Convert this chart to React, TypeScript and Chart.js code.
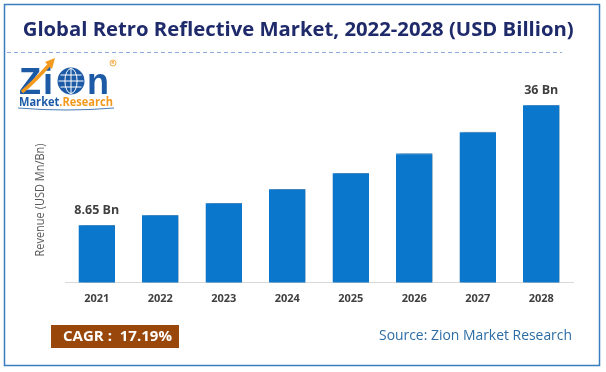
import React, { useEffect, useRef } from 'react';
import { Chart, registerables } from 'chart.js';

Chart.register(...registerables);

const YEARS = ['2021', '2022', '2023', '2024', '2025', '2026', '2027', '2028'];
const REVENUE = [8.65, 10.95, 13.7, 16.9, 20.55, 25.0, 29.95, 36];
const VALUE_LABELS = ['8.65 Bn', '', '', '', '', '', '', '36 Bn'];
const TITLE = 'Global Retro Reflective Market, 2022-2028 (USD Billion)';
const Y_TITLE = 'Revenue (USD Mn/Bn)';
const CAGR_TEXT = 'CAGR :  17.19%';
const SOURCE_TEXT = 'Source: Zion Market Research';
const LOGO_WORD = 'Zion';
const LOGO_SUB_A = 'Market';
const LOGO_SUB_B = 'Research';
const Y_MIN = -4.5;
const Y_MAX = 44;

function fitText(
  ctx: CanvasRenderingContext2D,
  text: string,
  x: number,
  y: number,
  font: string,
  color: string,
  width: number,
  align: 'left' | 'right' | 'center',
  baseline: CanvasTextBaseline = 'middle'
) {
  ctx.save();
  ctx.font = font;
  ctx.fillStyle = color;
  ctx.textBaseline = baseline;
  ctx.textAlign = 'left';
  const w = ctx.measureText(text).width;
  const s = width / w;
  const left = align === 'left' ? x : align === 'right' ? x - width : x - width / 2;
  ctx.translate(left, y);
  ctx.scale(s, 1);
  ctx.fillText(text, 0, 0);
  ctx.restore();
}

function drawLogo(ctx: CanvasRenderingContext2D) {
  const blue = '#1c5aa6';
  const orange = '#f39a1e';
  ctx.save();
  ctx.font = 'bold 36px "Liberation Sans"';
  ctx.fillStyle = blue;
  ctx.textBaseline = 'alphabetic';
  ctx.textAlign = 'left';
  ctx.fillText(LOGO_WORD[0], 19, 94);
  ctx.fillText(LOGO_WORD[1], 43, 94);
  // orange arrow
  ctx.strokeStyle = orange;
  ctx.lineWidth = 3.5;
  ctx.beginPath();
  ctx.moveTo(22, 92);
  ctx.quadraticCurveTo(36, 80, 50, 64);
  ctx.stroke();
  ctx.fillStyle = orange;
  ctx.beginPath();
  ctx.moveTo(55, 58);
  ctx.lineTo(45, 62);
  ctx.lineTo(52, 69);
  ctx.closePath();
  ctx.fill();
  // globe (the "o")
  const cx = 71, cy = 81, r = 13.5;
  ctx.fillStyle = blue;
  ctx.beginPath();
  ctx.arc(cx, cy, r, 0, Math.PI * 2);
  ctx.fill();
  ctx.strokeStyle = '#ffffff';
  ctx.lineWidth = 1;
  ctx.beginPath();
  ctx.ellipse(cx, cy, r * 0.45, r - 1, 0, 0, Math.PI * 2);
  ctx.stroke();
  ctx.beginPath();
  ctx.moveTo(cx, cy - r + 1);
  ctx.lineTo(cx, cy + r - 1);
  ctx.moveTo(cx - r + 1, cy);
  ctx.lineTo(cx + r - 1, cy);
  ctx.moveTo(cx - r + 3, cy - 6);
  ctx.lineTo(cx + r - 3, cy - 6);
  ctx.moveTo(cx - r + 3, cy + 6);
  ctx.lineTo(cx + r - 3, cy + 6);
  ctx.stroke();
  ctx.fillStyle = blue;
  ctx.fillText(LOGO_WORD.slice(3), 87, 94);
  // registered mark
  ctx.strokeStyle = orange;
  ctx.lineWidth = 0.8;
  ctx.beginPath();
  ctx.arc(113, 63, 3, 0, Math.PI * 2);
  ctx.stroke();
  ctx.font = 'bold 4px "Liberation Sans"';
  ctx.fillStyle = orange;
  ctx.textAlign = 'center';
  ctx.textBaseline = 'middle';
  ctx.fillText('R', 113, 63.3);
  // sub line
  ctx.font = 'bold 12px "Open Sans"';
  ctx.textAlign = 'left';
  ctx.textBaseline = 'alphabetic';
  const wa = ctx.measureText(LOGO_SUB_A).width;
  const wd = ctx.measureText('.').width;
  const wb = ctx.measureText(LOGO_SUB_B).width;
  const s = 94 / (wa + wd + wb);
  ctx.translate(19, 106);
  ctx.scale(s, 1);
  ctx.fillStyle = blue;
  ctx.fillText(LOGO_SUB_A, 0, 0);
  ctx.fillStyle = orange;
  ctx.fillText('.', wa, 0);
  ctx.fillText(LOGO_SUB_B, wa + wd, 0);
  ctx.restore();
  ctx.save();
  ctx.strokeStyle = blue;
  ctx.lineWidth = 0.8;
  ctx.beginPath();
  ctx.moveTo(18, 108);
  ctx.quadraticCurveTo(66, 112, 114, 108);
  ctx.stroke();
  ctx.restore();
}

const decorPlugin = {
  id: 'decor',
  beforeDraw(chart: any) {
    const ctx: CanvasRenderingContext2D = chart.ctx;
    ctx.save();
    ctx.fillStyle = '#ffffff';
    ctx.fillRect(0, 0, chart.width, chart.height);
    ctx.restore();
  },
  beforeDatasetsDraw(chart: any) {
    const ctx: CanvasRenderingContext2D = chart.ctx;
    ctx.save();
    ctx.shadowColor = 'rgba(0,0,0,0.35)';
    ctx.shadowBlur = 4;
    ctx.shadowOffsetX = 3;
    ctx.shadowOffsetY = 0;
  },
  afterDatasetsDraw(chart: any) {
    const ctx: CanvasRenderingContext2D = chart.ctx;
    ctx.restore();
    const meta = chart.getDatasetMeta(0);
    ctx.save();
    ctx.font = 'bold 12.5px "Open Sans"';
    ctx.fillStyle = '#404040';
    ctx.textAlign = 'center';
    ctx.textBaseline = 'middle';
    meta.data.forEach((bar: any, i: number) => {
      const t = VALUE_LABELS[i];
      if (t) ctx.fillText(t, bar.x, bar.y - 14.5);
    });
    ctx.restore();
  },
  afterDraw(chart: any) {
    const ctx: CanvasRenderingContext2D = chart.ctx;
    // outer border
    ctx.save();
    ctx.strokeStyle = '#3a7cc0';
    ctx.lineWidth = 1.5;
    ctx.strokeRect(4.5, 4.5, 595, 361);
    ctx.restore();
    // title
    fitText(ctx, TITLE, 22.7, 36, 'bold 20px "Open Sans"', '#1f2a6b', 551, 'left', 'alphabetic');
    // dashed line
    ctx.save();
    ctx.strokeStyle = '#8eaadb';
    ctx.lineWidth = 1;
    ctx.setLineDash([4, 3]);
    ctx.beginPath();
    ctx.moveTo(7, 52.5);
    ctx.lineTo(562, 52.5);
    ctx.stroke();
    ctx.restore();
    // logo
    drawLogo(ctx);
    // y axis title
    ctx.save();
    ctx.translate(41, 200);
    ctx.rotate(-Math.PI / 2);
    fitText(ctx, Y_TITLE, 0, 0, '12px "Open Sans"', '#595959', 113, 'center', 'middle');
    ctx.restore();
    // CAGR box
    ctx.save();
    ctx.fillStyle = '#9a470c';
    ctx.fillRect(51, 325, 128, 23);
    ctx.restore();
    fitText(ctx, CAGR_TEXT, 63, 337, 'bold 15px "Open Sans"', '#ffffff', 109, 'left', 'middle');
    // source
    fitText(ctx, SOURCE_TEXT, 572, 335.5, '15px "Open Sans"', '#2e6da4', 193, 'right', 'middle');
  },
};

export default function App() {
  const ref = useRef<HTMLCanvasElement | null>(null);
  useEffect(() => {
    if (!ref.current) return;
    const chart = new Chart(ref.current, {
      type: 'bar',
      data: {
        labels: YEARS,
        datasets: [
          {
            data: REVENUE,
            backgroundColor: '#0a77cc',
            borderColor: '#4a9de0',
            borderWidth: { top: 1, left: 0, right: 0, bottom: 0 } as any,
            base: Y_MIN,
            barPercentage: 0.575,
            categoryPercentage: 1,
          } as any,
        ],
      },
      options: {
        responsive: false,
        animation: false,
        layout: { padding: { left: 65, right: 33, top: 70, bottom: 58 } },
        plugins: {
          legend: { display: false },
          tooltip: { enabled: false },
          title: { display: false },
        },
        scales: {
          x: {
            grid: { display: false, drawTicks: false },
            border: { display: true, color: '#d9d9d9', width: 1 },
            ticks: {
              color: '#404040',
              font: { family: 'Open Sans', size: 11, weight: 'bold' },
              padding: 9,
              maxRotation: 0,
              autoSkip: false,
            },
          },
          y: { display: false, min: Y_MIN, max: Y_MAX },
        },
      },
      plugins: [decorPlugin],
    });
    return () => chart.destroy();
  }, []);
  return (
    <div style={{ position: 'absolute', left: 0, top: 0, width: 606, height: 372 }}>
      <canvas ref={ref} width={606} height={372} style={{ display: 'block' }} />
    </div>
  );
}
